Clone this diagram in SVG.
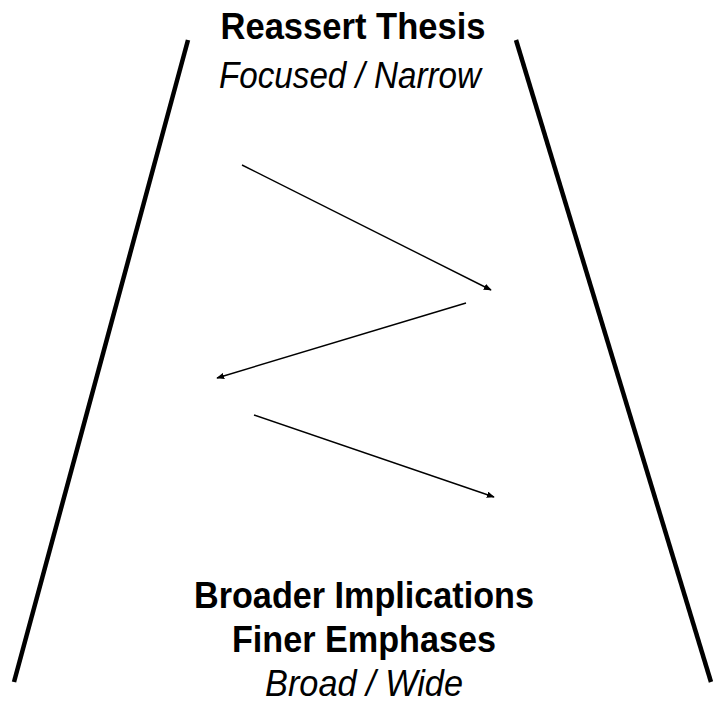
<svg xmlns="http://www.w3.org/2000/svg" width="718" height="709" viewBox="0 0 718 709">
<defs>
<style>
.t{font-family:"Liberation Sans",Arial,sans-serif;font-size:37px;fill:#000;text-anchor:middle}
.b{font-weight:bold}
.i{font-style:italic}
.side{stroke:#000;stroke-width:4.5;fill:none}
.arr{stroke:#000;stroke-width:1.4;fill:none;marker-end:url(#ah)}
</style>
<marker id="ah" viewBox="0 0 10 8" refX="9" refY="4" markerWidth="8" markerHeight="6.4" markerUnits="userSpaceOnUse" orient="auto">
<path d="M0,0 L10,4 L0,8 Z" fill="#000"/>
</marker>
</defs>
<rect width="718" height="709" fill="#fff"/>
<g id="sides">
<line class="side" x1="188" y1="40" x2="14" y2="682"/>
<line class="side" x1="516" y1="40" x2="711" y2="682"/>
</g>
<g id="top-label">
<text class="t b" x="353" y="39" textLength="265" lengthAdjust="spacingAndGlyphs">Reassert Thesis</text>
<text class="t i" x="350" y="87.5" textLength="262" lengthAdjust="spacingAndGlyphs">Focused / Narrow</text>
</g>
<g id="bottom-label">
<text class="t b" x="364" y="608" textLength="340" lengthAdjust="spacingAndGlyphs">Broader Implications</text>
<text class="t b" x="364" y="652" textLength="264" lengthAdjust="spacingAndGlyphs">Finer Emphases</text>
<text class="t i" x="364" y="696" textLength="198" lengthAdjust="spacingAndGlyphs">Broad / Wide</text>
</g>
<g id="connectors">
<line class="arr" x1="242" y1="165" x2="491" y2="290"/>
<line class="arr" x1="466" y1="303" x2="217" y2="378"/>
<line class="arr" x1="254" y1="415" x2="494" y2="497"/>
</g>
</svg>
